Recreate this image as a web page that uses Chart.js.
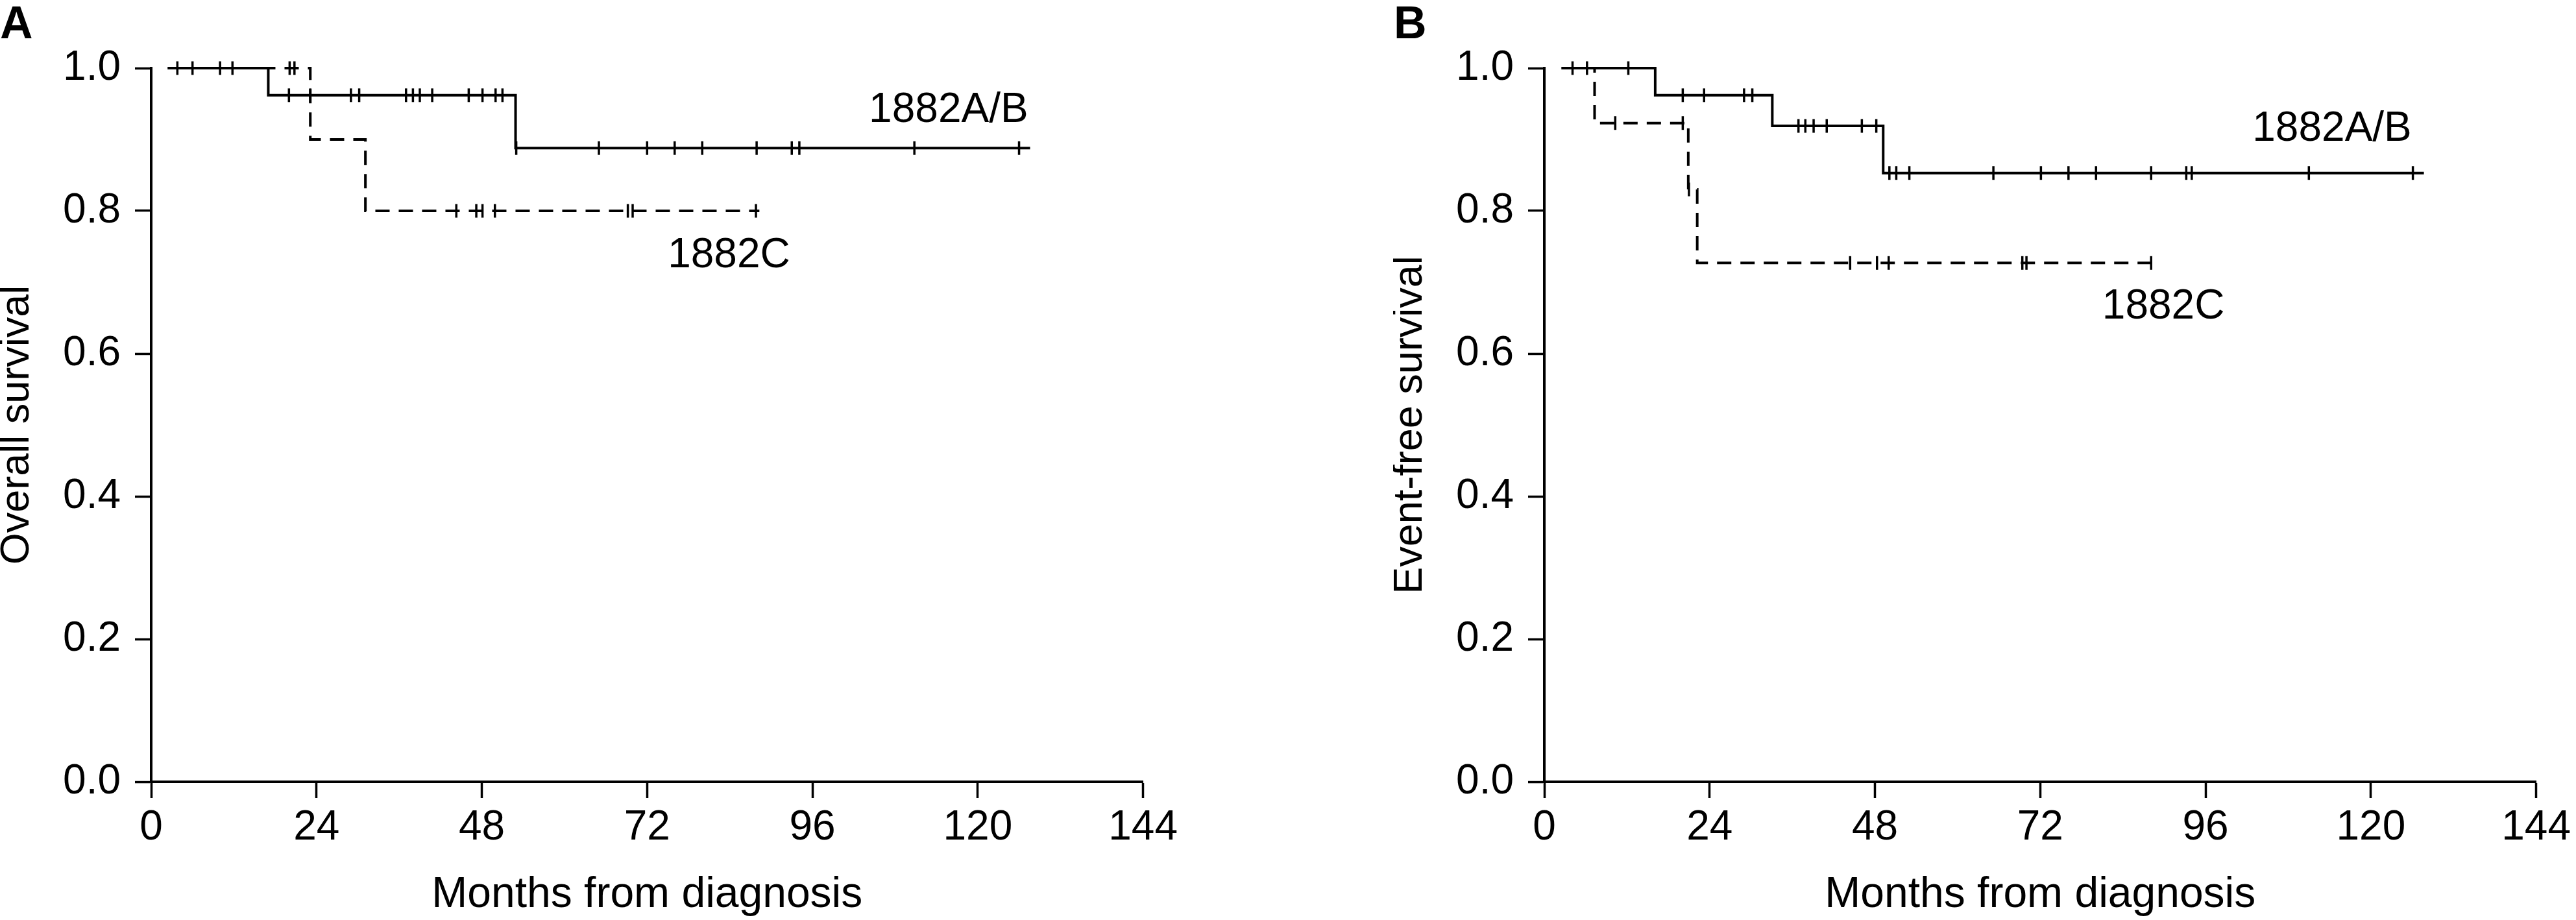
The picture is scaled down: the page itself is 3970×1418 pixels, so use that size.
<!DOCTYPE html>
<html>
<head>
<meta charset="utf-8">
<script src="https://cdn.jsdelivr.net/npm/chart.js@4.4.1/dist/chart.umd.min.js"></script>
<style>
  html, body { margin: 0; padding: 0; background: #fff; overflow: hidden; }
  #wrap { position: relative; width: 3970px; height: 1418px; }
  canvas { position: absolute; top: 0; }
  #chartA { left: 0; }
  #chartB { left: 2147px; }
  .panel { position: absolute; top: 0; font: bold 70px 'Liberation Sans', Arial, sans-serif; line-height: 70px; }
</style>
</head>
<body>
<div id="wrap">
  <canvas id="chartA" width="1823" height="1418"></canvas>
  <canvas id="chartB" width="1823" height="1418"></canvas>
  <div class="panel" style="left:0">A</div>
  <div class="panel" style="left:2148px">B</div>
</div>
<script>
// axis ticks
const monthTicks = [0, 24, 48, 72, 96, 120, 144];
const survivalTicks = [0, 0.2, 0.4, 0.6, 0.8, 1.0];

// A - overall survival (months, survival after each step)
const osAbTimes = [2.4, 17.0, 52.9, 127.6];
const osAbSurv = [1.0, 0.962, 0.888, 0.888];
const osAbCensored = [3.8, 6.0, 10.0, 11.8, 20.0, 23.1, 29.0, 30.2, 37.0, 38.0, 39.0, 40.8,
  46.1, 48.1, 50.0, 51.0, 53.0, 65.0, 72.0, 76.0, 80.0, 87.9, 93.0, 94.1, 110.8, 126.0];
const osCTimes = [2.4, 23.1, 31.1, 88.3];
const osCSurv = [1.0, 0.9, 0.8, 0.8];
const osCCensored = [20.1, 20.8, 44.3, 47.2, 48.1, 49.9, 69.2, 69.9, 87.8];

// B - event-free survival
const efsAbTimes = [2.5, 16.1, 33.1, 49.2, 127.7];
const efsAbSurv = [1.0, 0.962, 0.919, 0.853, 0.853];
const efsAbCensored = [4.1, 6.2, 12.2, 20.1, 23.2, 29.0, 30.2, 36.9, 37.9, 39.1, 41.0, 46.1,
  48.2, 50.1, 51.1, 53.0, 65.2, 72.1, 76.1, 80.1, 88.1, 93.2, 94.0, 111.0, 126.1];
const efsCTimes = [2.5, 7.3, 20.9, 22.2, 88.5];
const efsCSurv = [1.0, 0.923, 0.83, 0.727, 0.727];
const efsCCensored = [10.3, 20.1, 21.0, 44.4, 48.3, 50.0, 69.4, 70.0, 88.1];

const groupNames = ['1882A/B', '1882C'];

const FONT = "'Liberation Sans', Arial, sans-serif";
Chart.defaults.font.family = FONT;
Chart.defaults.color = '#000';

// level of a KM curve at month t
function levelAt(times, surv, t) {
  let lvl = surv[0];
  for (let i = 0; i < times.length; i++) {
    if (times[i] <= t) lvl = surv[i];
  }
  return lvl;
}

// curve names written next to the lines
const curveLabels = {
  id: 'curveLabels',
  afterDatasetsDraw(chart, args, opts) {
    const ctx = chart.ctx;
    const xs = chart.scales.x, ys = chart.scales.y;
    ctx.save();
    ctx.fillStyle = '#000';
    ctx.font = '64px ' + FONT;
    ctx.textAlign = 'left';
    ctx.textBaseline = 'alphabetic';
    opts.items.forEach(it => {
      ctx.fillText(it.text, xs.getPixelForValue(it.at[0]), ys.getPixelForValue(it.at[1]));
    });
    ctx.restore();
  }
};

function makeChart(id, yTitle, groups, labels) {
  const datasets = [];
  groups.forEach(g => {
    datasets.push({
      type: 'line',
      data: g.times.map((t, i) => ({ x: t, y: g.surv[i] })),
      stepped: true,
      borderColor: '#000',
      borderWidth: 4,
      borderDash: g.dash,
      borderCapStyle: 'butt',
      pointRadius: 0,
      fill: false,
      clip: false
    });
    datasets.push({
      type: 'scatter',
      data: g.censored.map(t => ({ x: t, y: levelAt(g.times, g.surv, t) })),
      showLine: false,
      pointStyle: 'line',
      rotation: 90,
      pointRadius: 10.5,
      borderWidth: 3.5,
      borderColor: '#000',
      clip: false
    });
  });

  return new Chart(document.getElementById(id), {
    type: 'line',
    data: { datasets },
    plugins: [curveLabels],
    options: {
      responsive: false,
      animation: false,
      events: [],
      layout: { padding: { top: 105, right: 56, left: 0, bottom: 0 } },
      plugins: {
        legend: { display: false },
        tooltip: { enabled: false },
        curveLabels: { items: labels }
      },
      scales: {
        x: {
          type: 'linear',
          min: 0,
          max: 144,
          afterBuildTicks: s => { s.ticks = monthTicks.map(v => ({ value: v })); },
          afterFit: s => { s.height = 213; },
          ticks: { font: { size: 64 }, padding: 8, maxRotation: 0, autoSkip: false },
          grid: { drawOnChartArea: false, drawTicks: true, tickLength: 25, tickWidth: 3.5, tickColor: '#000' },
          border: { display: true, color: '#000', width: 4 },
          title: { display: true, text: 'Months from diagnosis', font: { size: 66, lineHeight: 1 }, padding: { top: 0, bottom: 5 } }
        },
        y: {
          min: 0,
          max: 1,
          afterBuildTicks: s => { s.ticks = survivalTicks.map(v => ({ value: v })); },
          afterFit: s => { s.width = 233; },
          ticks: { font: { size: 64 }, padding: 22, callback: v => Number(v).toFixed(1) },
          grid: { drawOnChartArea: false, drawTicks: true, tickLength: 25, tickWidth: 3.5, tickColor: '#000' },
          border: { display: true, color: '#000', width: 4 },
          title: { display: true, text: yTitle, font: { size: 63, lineHeight: 0.85 }, padding: { top: 0, bottom: 0 } }
        }
      }
    }
  });
}

makeChart('chartA', 'Overall survival', [
  { times: osAbTimes, surv: osAbSurv, censored: osAbCensored, dash: [] },
  { times: osCTimes, surv: osCSurv, censored: osCCensored, dash: [22, 14] }
], [
  { text: groupNames[0], at: [104.2, 0.925] },
  { text: groupNames[1], at: [75.0, 0.721] }
]);

makeChart('chartB', 'Event-free survival', [
  { times: efsAbTimes, surv: efsAbSurv, censored: efsAbCensored, dash: [] },
  { times: efsCTimes, surv: efsCSurv, censored: efsCCensored, dash: [22, 14] }
], [
  { text: groupNames[0], at: [102.8, 0.898] },
  { text: groupNames[1], at: [81.0, 0.649] }
]);
</script>
</body>
</html>
